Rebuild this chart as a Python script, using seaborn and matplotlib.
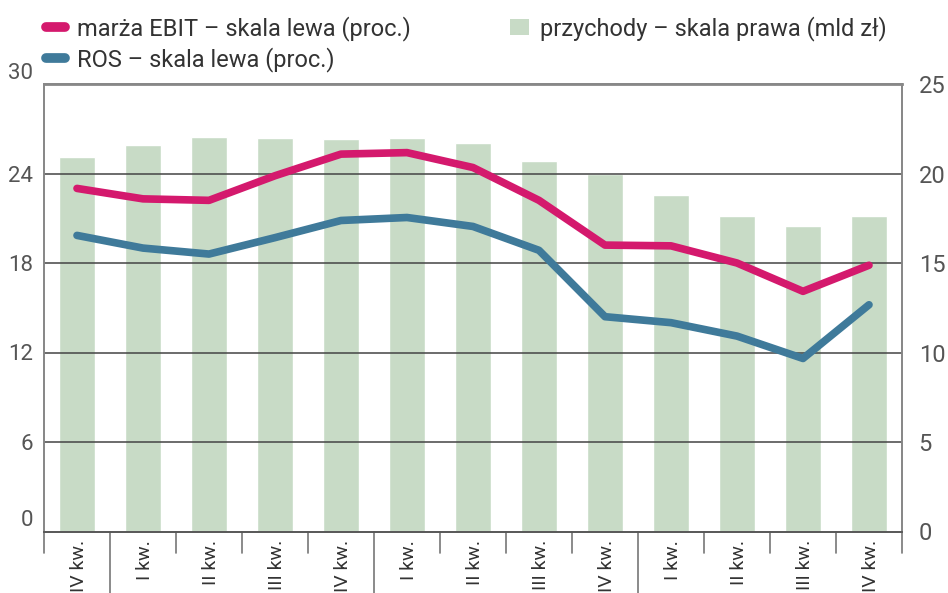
import numpy as np
import pandas as pd
import matplotlib
matplotlib.use('Agg')
import matplotlib.pyplot as plt
import matplotlib.transforms as mtransforms
from matplotlib.lines import Line2D
from matplotlib.patches import Patch
import seaborn as sns

sns.set_style("white")
plt.rcParams['font.family'] = ['Roboto', 'DejaVu Sans']

quarters = ["IV kw.", "I kw.", "II kw.", "III kw.", "IV kw.", "I kw.", "II kw.",
            "III kw.", "IV kw.", "I kw.", "II kw.", "III kw.", "IV kw."]
revenue = [20.9, 21.6, 22.05, 22.0, 21.9, 22.0, 21.7, 20.7, 20.0, 18.8, 17.65, 17.05, 17.65]
ebit_margin = [23.0, 22.3, 22.2, 23.85, 25.3, 25.4, 24.4, 22.2, 19.2, 19.15, 18.0, 16.1, 17.85]
ros = [19.85, 19.0, 18.6, 19.7, 20.85, 21.05, 20.45, 18.85, 14.4, 14.0, 13.1, 11.6, 15.2]
year_starts = [1, 5, 9]

PINK = '#d4196d'
BLUE = '#3f7a9a'
GREEN = '#c8dbc6'
GRAY = '#555555'

df = pd.DataFrame({'pos': np.arange(len(quarters)), 'revenue': revenue,
                   'ebit': ebit_margin, 'ros': ros})

W, H = 948, 593
fig = plt.figure(figsize=(W / 100, H / 100), dpi=100)
ax = fig.add_axes([44 / W, (H - 531.5) / H, (902 - 44) / W, (531.5 - 84) / H])
ax_bar = ax.twinx()
ax.set_zorder(ax_bar.get_zorder() + 1)
ax.patch.set_visible(False)

# bars on the right scale
sns.barplot(data=df, x='pos', y='revenue', ax=ax_bar, color=GREEN, width=0.56,
            saturation=1)
ax_bar.set_ylim(0, 25)
ax_bar.set_yticks([0, 5, 10, 15, 20, 25])
ax_bar.set_xlim(-0.5, len(quarters) - 0.5)

# lines on the left scale
sns.lineplot(data=df, x='pos', y='ebit', ax=ax, color=PINK, lw=5.5,
             solid_capstyle='round', solid_joinstyle='round')
sns.lineplot(data=df, x='pos', y='ros', ax=ax, color=BLUE, lw=5.5,
             solid_capstyle='round', solid_joinstyle='round')
ax.set_ylim(0, 30)
ax.set_yticks([0, 6, 12, 18, 24, 30])
ax.set_xlim(-0.5, len(quarters) - 0.5)

for y in [6, 12, 18, 24]:
    ax.axhline(y, color='#444444', lw=1.1, zorder=1)

for a in (ax, ax_bar):
    a.set_xlabel('')
    a.set_ylabel('')
    a.set_xticks([])
    for s in a.spines.values():
        s.set_color('#888888')
        s.set_linewidth(1.3)
ax.spines['bottom'].set_color('#555555')
ax.spines['top'].set_linewidth(2)

ax.tick_params(axis='y', length=0, pad=8, labelsize=16, labelcolor=GRAY)
ax_bar.tick_params(axis='y', length=0, pad=12, labelsize=17, labelcolor=GRAY)
for lbl in ax.get_yticklabels():
    if lbl.get_text() in ('0', '30'):
        lbl.set_va('bottom')

# category separators and labels
trans = mtransforms.blended_transform_factory(ax.transData, ax.transAxes)
for i in range(len(quarters) + 1):
    depth = 0.15 if i in year_starts else 0.047
    ax.plot([i - 0.5, i - 0.5], [0, -depth], transform=trans, color='#777777',
            lw=1.2, clip_on=False)
for i, q in enumerate(quarters):
    ax.text(i + 0.03, -0.019, q, transform=trans, rotation=90, ha='center',
            va='top', fontsize=14, color='#333333')

handles = [Line2D([], [], color=PINK, lw=7, solid_capstyle='round'),
           Line2D([], [], color=BLUE, lw=7, solid_capstyle='round'),
           Patch(facecolor=GREEN, edgecolor='none')]
labels = ['marża EBIT – skala lewa (proc.)', 'ROS – skala lewa (proc.)',
          'przychody – skala prawa (mld zł)']
fig.legend(handles, labels, loc='upper left', bbox_to_anchor=(46 / W, 1 - 16 / H),
           ncol=2, frameon=False, fontsize=17, handlelength=0.8,
           handletextpad=0.5, columnspacing=4.2, labelspacing=0.25,
           borderaxespad=0, borderpad=0, labelcolor='#333333')

fig.savefig('out.png', dpi=100)
